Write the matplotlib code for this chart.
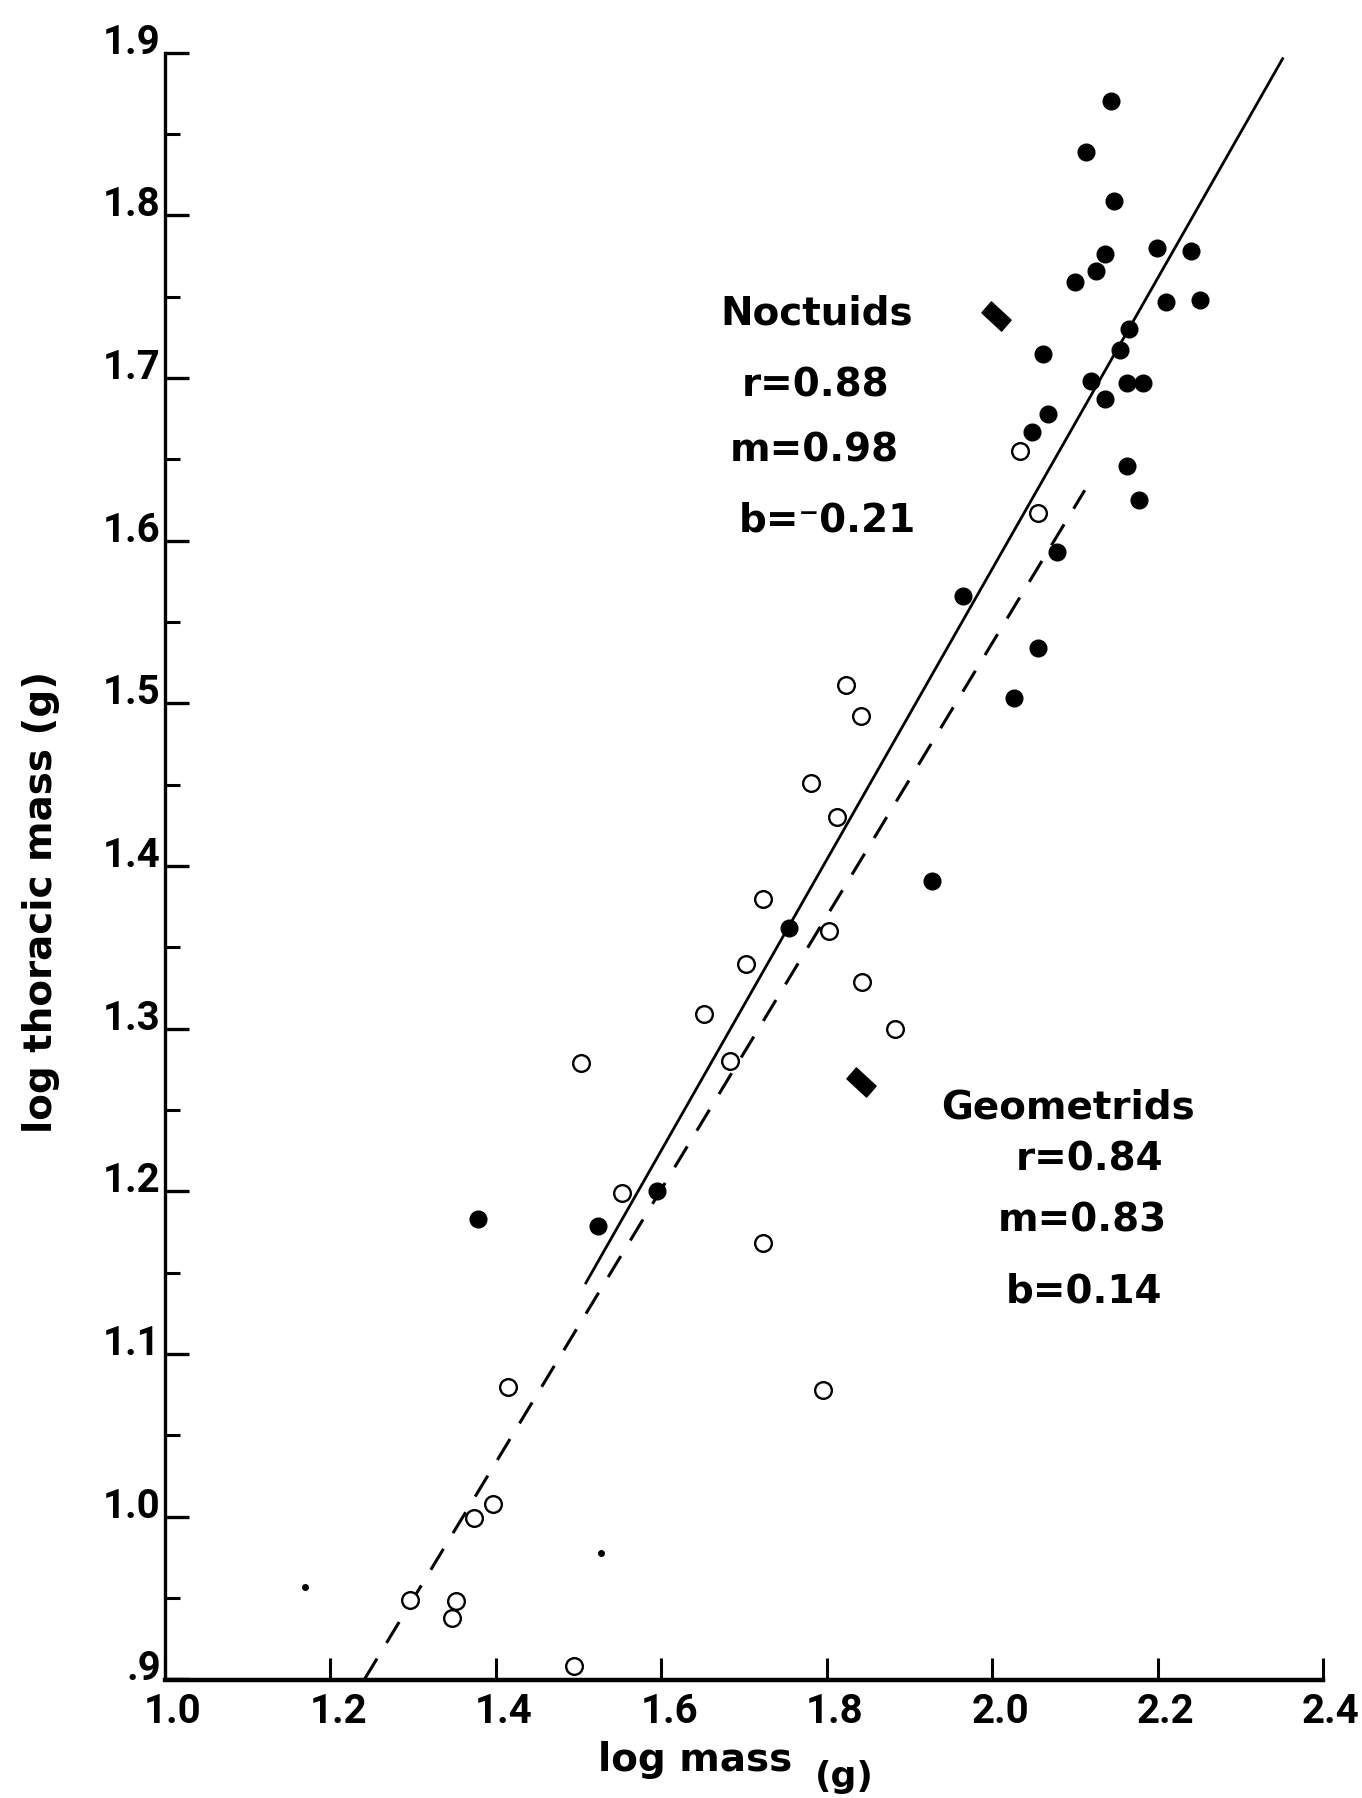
import matplotlib
matplotlib.use("Agg")
import matplotlib.pyplot as plt
import matplotlib.transforms as mtransforms
from matplotlib.path import Path
from matplotlib.font_manager import FontProperties

# ---------------- data ----------------
noct_x = [2.144, 2.114, 2.147, 2.199, 2.240, 2.136, 2.126, 2.100, 2.210, 2.251,
          2.166, 2.061, 2.155, 2.119, 2.163, 2.182, 2.137, 2.067, 2.048, 2.163,
          2.177, 2.078, 1.965, 2.056, 2.026, 1.927, 1.754, 1.595, 1.523, 1.379]
noct_y = [1.870, 1.839, 1.809, 1.780, 1.778, 1.776, 1.766, 1.759, 1.747, 1.748,
          1.730, 1.715, 1.717, 1.698, 1.697, 1.697, 1.687, 1.678, 1.667, 1.646,
          1.625, 1.593, 1.566, 1.534, 1.503, 1.391, 1.362, 1.200, 1.179, 1.183]

geom_x = [2.034, 2.056, 1.823, 1.842, 1.781, 1.812, 1.723, 1.803, 1.702, 1.843,
          1.652, 1.883, 1.683, 1.503, 1.552, 1.723, 1.795, 1.415, 1.396, 1.374,
          1.296, 1.352, 1.347, 1.494]
geom_y = [1.655, 1.617, 1.511, 1.492, 1.451, 1.430, 1.380, 1.360, 1.340, 1.329,
          1.309, 1.300, 1.280, 1.279, 1.199, 1.168, 1.078, 1.080, 1.008, 0.999,
          0.949, 0.948, 0.938, 0.908]

# regression lines (end points)
noct_line_x = [1.508, 2.352]
noct_line_y = [1.143, 1.897]
geom_line_x = [1.241, 2.112]
geom_line_y = [0.900, 1.631]

# arrow-head pointers next to the labels
pointer_x = [2.005, 1.842]
pointer_y = [1.738, 1.267]

# stray specks in the printed figure
speck_x = [1.527, 1.169]
speck_y = [0.9775, 0.957]

x_ticks = [1.0, 1.2, 1.4, 1.6, 1.8, 2.0, 2.2, 2.4]
x_ticklabels = ["1.0", "1.2", "1.4", "1.6", "1.8", "2.0", "2.2", "2.4"]
y_ticks = [0.9, 1.0, 1.1, 1.2, 1.3, 1.4, 1.5, 1.6, 1.7, 1.8, 1.9]
y_ticklabels = [".9", "1.0", "1.1", "1.2", "1.3", "1.4", "1.5", "1.6", "1.7", "1.8", "1.9"]
y_minor = [0.95, 1.05, 1.15, 1.25, 1.35, 1.45, 1.55, 1.65, 1.75, 1.85]

noct_text = ["Noctuids", "r=0.88", "m=0.98", "b=\u207b0.21"]
geom_text = ["Geometrids", "r=0.84", "m=0.83", "b=0.14"]

# ---------------- figure ----------------
plt.rcParams['font.family'] = ['DejaVu Sans']
W, H = 1362, 1799
fig = plt.figure(figsize=(W / 100, H / 100), dpi=100)
ax = fig.add_axes([165 / W, 1 - 1680.5 / H, (1323 - 165) / W, (1680.5 - 53.6) / H])

ax.set_xlim(1.0, 2.4)
ax.set_ylim(0.9, 1.9)

for s in ["top", "right"]:
    ax.spines[s].set_visible(False)
ax.spines["left"].set_linewidth(2.4)
ax.spines["bottom"].set_linewidth(3.2)

ax.set_xticks(x_ticks)
ax.set_xticklabels(x_ticklabels)
ax.set_yticks(y_ticks)
ax.set_yticklabels(y_ticklabels)
ax.set_yticks(y_minor, minor=True)

tick_fp = FontProperties(family=['Roboto', 'DejaVu Sans'], weight='bold', size=29)
ax.tick_params(axis='x', which='major', direction='in', length=16, width=2.2, pad=9)
ax.tick_params(axis='y', which='major', direction='in', length=17, width=2.4, pad=3)
ax.tick_params(axis='y', which='minor', direction='in', length=11, width=2.2)
shift = mtransforms.ScaledTranslation(8 / 100, 0, fig.dpi_scale_trans)
for lbl in ax.get_xticklabels():
    lbl.set_fontproperties(tick_fp)
    lbl.set_transform(lbl.get_transform() + shift)
for lbl in ax.get_yticklabels():
    lbl.set_fontproperties(tick_fp)
    lbl.set_va('baseline')

# regression lines
ax.plot(noct_line_x, noct_line_y, color='black', lw=2.0, solid_capstyle='butt')
ax.plot(geom_line_x, geom_line_y, color='black', lw=2.2, linestyle=(0, (8, 6)))

# points
ax.plot(noct_x, noct_y, linestyle='none', marker='o', markersize=12,
        markerfacecolor='black', markeredgecolor='black', clip_on=False)
ax.plot(geom_x, geom_y, linestyle='none', marker='o', markersize=12,
        markerfacecolor='white', markeredgecolor='black', markeredgewidth=1.7,
        clip_on=False)

# pointer blobs
blob = Path([(-1.0, 0.25), (-0.35, 1.0), (1.0, -0.25), (0.35, -1.0), (-1.0, 0.25)],
            [Path.MOVETO, Path.LINETO, Path.LINETO, Path.LINETO, Path.CLOSEPOLY])
ax.plot(pointer_x, pointer_y, linestyle='none', marker=blob, markersize=21,
        color='black')

# specks
ax.plot(speck_x, speck_y, linestyle='none', marker='o', markersize=4, color='black')

# annotations
txt = dict(fontsize=28, fontweight='bold', color='black', va='center', ha='left')
ax.text(1.671, 1.740, noct_text[0], **txt)
ax.text(1.697, 1.696, noct_text[1], **txt)
ax.text(1.683, 1.656, noct_text[2], **txt)
ax.text(1.694, 1.613, noct_text[3], **txt)

ax.text(1.938, 1.252, geom_text[0], **txt)
ax.text(2.028, 1.220, geom_text[1], **txt)
ax.text(2.007, 1.1825, geom_text[2], **txt)
ax.text(2.017, 1.139, geom_text[3], **txt)

# axis labels
fig.text(41 / W, 1 - 902 / H, "log thoracic mass (g)", rotation=90,
         fontsize=28, fontweight='bold', ha='center', va='center')
fig.text(598 / W, 1 - 1760 / H, "log mass", fontsize=28, fontweight='bold',
         ha='left', va='center')
fig.text(815 / W, 1 - 1777 / H, "(g)", fontsize=26, fontweight='bold',
         ha='left', va='center')

fig.savefig("out.png", dpi=100, facecolor='white')
